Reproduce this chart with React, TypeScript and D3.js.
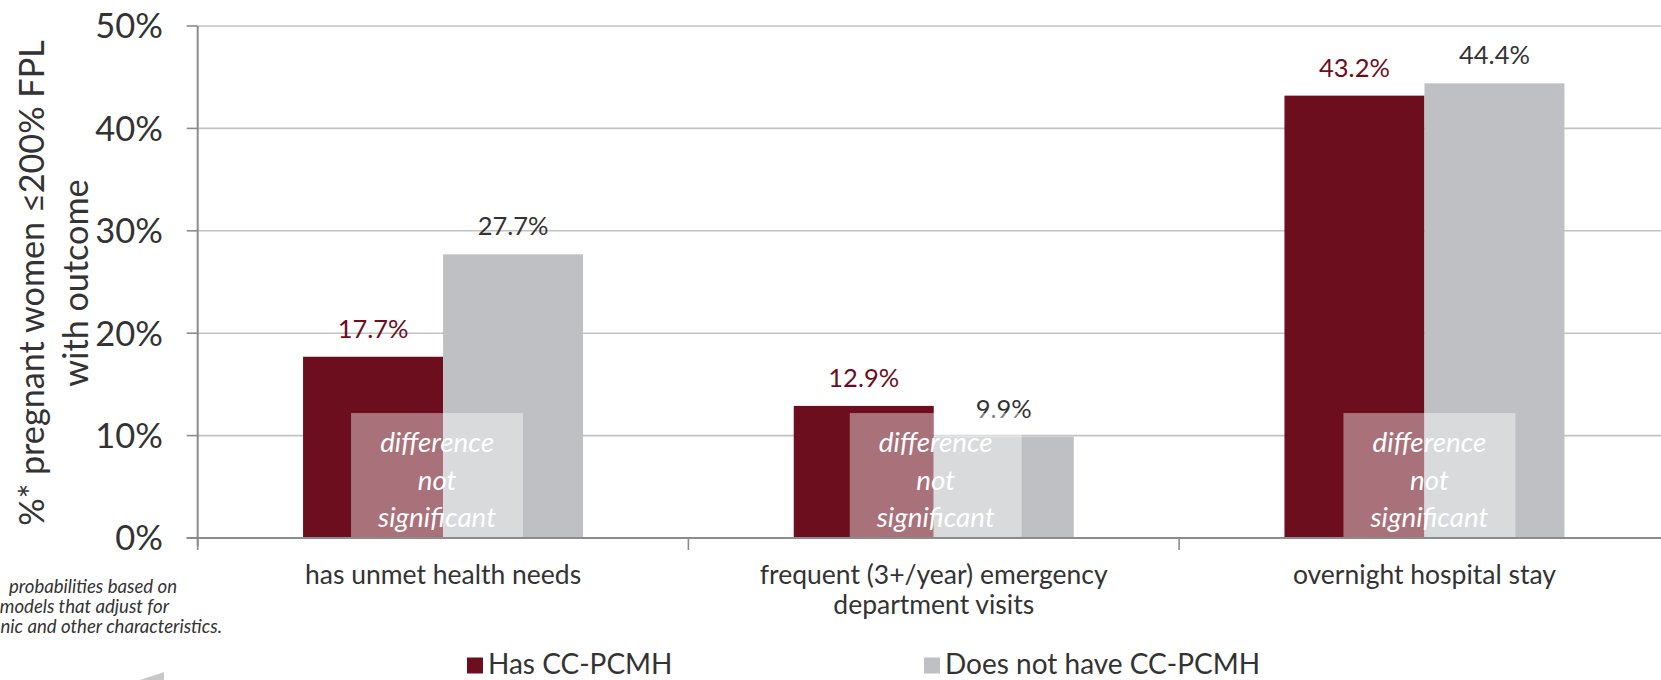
import React from "react";
import * as d3 from "d3";

const categories = [
  ["has unmet health needs"],
  ["frequent (3+/year) emergency", "department visits"],
  ["overnight hospital stay"],
];
const categoryKeys = ["unmet", "ed", "overnight"];
const seriesNames = ["Has CC-PCMH", "Does not have CC-PCMH"];
const hasValues = [17.7, 12.9, 43.2];
const notValues = [27.7, 9.9, 44.4];
const yTicks = [0, 10, 20, 30, 40, 50];
const nsBoxTop = 12.2;
const nsBoxShift = [-6, 2, 5];
const nsText = ["difference", "not", "significant"];
const footnote = [
  "probabilities based on",
  "models that adjust for",
  "nic and other characteristics.",
];
const yLabel = ["%* pregnant women \u2264200% FPL", "with outcome"];

const RED = "#6d0e1e";
const GREY = "#bfc0c4";
const TEXT = "#333333";
const FONT = "Lato, 'Open Sans', sans-serif";

export default function App() {
  const W = 1661;
  const H = 680;
  const axisX = 197.7;
  const step = 490.7;
  const y = d3.scaleLinear().domain([0, 50]).range([538, 26]);
  const x0 = d3
    .scaleBand<string>()
    .domain(categoryKeys)
    .range([axisX, axisX + step * categoryKeys.length])
    .padding(0);
  const x1 = d3
    .scaleBand<string>()
    .domain(seriesNames)
    .range([0, x0.bandwidth()])
    .paddingInner(0)
    .paddingOuter(0.7525);
  const colors = [RED, GREY];
  const labelColors = [RED, TEXT];
  const series = [hasValues, notValues];
  const boxHalf = 86;

  return (
    <svg
      width={W}
      height={H}
      style={{ position: "absolute", left: 0, top: 0, fontFamily: FONT }}
    >
      {/* gridlines */}
      {yTicks
        .filter((t) => t > 0)
        .map((t) => (
          <line
            key={"g" + t}
            x1={axisX}
            x2={W}
            y1={y(t)}
            y2={y(t)}
            stroke="#c2c2c2"
            strokeWidth={1.6}
          />
        ))}
      {/* bars */}
      {categoryKeys.map((c, ci) =>
        series.map((vals, si) => (
          <rect
            key={c + si}
            x={(x0(c) as number) + (x1(seriesNames[si]) as number)}
            y={y(vals[ci])}
            width={x1.bandwidth()}
            height={y(0) - y(vals[ci])}
            fill={colors[si]}
          />
        ))
      )}
      {/* value labels */}
      {categoryKeys.map((c, ci) =>
        series.map((vals, si) => (
          <text
            key={"v" + c + si}
            x={(x0(c) as number) + (x1(seriesNames[si]) as number) + x1.bandwidth() / 2}
            y={y(vals[ci]) - 19}
            textAnchor="middle"
            fontSize={25.5}
            fill={labelColors[si]}
          >
            {vals[ci].toFixed(1) + "%"}
          </text>
        ))
      )}
      {/* not significant boxes */}
      {categoryKeys.map((c, ci) => {
        const cx = (x0(c) as number) + x0.bandwidth() / 2 + nsBoxShift[ci];
        const top = y(nsBoxTop);
        return (
          <g key={"ns" + c}>
            <rect
              x={cx - boxHalf}
              y={top}
              width={boxHalf * 2}
              height={y(0) - top}
              fill="#ffffff"
              fillOpacity={0.41}
            />
            {nsText.map((t, i) => (
              <text
                key={t}
                x={cx}
                y={top + 39 + i * 37.5}
                textAnchor="middle"
                fontSize={27.8}
                fontStyle="italic"
                fill="#ffffff"
              >
                {t}
              </text>
            ))}
          </g>
        );
      })}
      {/* axes */}
      <line x1={axisX} x2={axisX} y1={y(50)} y2={546} stroke="#8c8c8c" strokeWidth={2} />
      <line x1={axisX - 11} x2={W} y1={y(0)} y2={y(0)} stroke="#8c8c8c" strokeWidth={2} />
      {yTicks.map((t) => (
        <g key={"yt" + t}>
          <line
            x1={axisX - 11}
            x2={axisX}
            y1={y(t)}
            y2={y(t)}
            stroke="#8c8c8c"
            strokeWidth={t === 0 ? 2 : 1.6}
          />
          <text
            x={163}
            y={y(t)}
            dy="0.36em"
            textAnchor="end"
            fontSize={34.5}
            fill={TEXT}
          >
            {t + "%"}
          </text>
        </g>
      ))}
      {categoryKeys.map((c) => (
        <line
          key={"xt" + c}
          x1={x0(c) as number}
          x2={x0(c) as number}
          y1={y(0)}
          y2={y(0) + 12}
          stroke="#8c8c8c"
          strokeWidth={1.6}
        />
      ))}
      {/* category labels */}
      {categoryKeys.map((c, ci) => (
        <text
          key={"cl" + c}
          x={(x0(c) as number) + x0.bandwidth() / 2}
          y={584}
          textAnchor="middle"
          fontSize={26.5}
          fill={TEXT}
        >
          {categories[ci].map((line, li) => (
            <tspan key={li} x={(x0(c) as number) + x0.bandwidth() / 2} dy={li === 0 ? 0 : 30}>
              {line}
            </tspan>
          ))}
        </text>
      ))}
      {/* y axis title */}
      {yLabel.map((line, i) => (
        <text
          key={"yl" + i}
          transform={`translate(${44 + i * 44},283) rotate(-90)`}
          textAnchor="middle"
          fontSize={34.2}
          fill={TEXT}
        >
          {line}
        </text>
      ))}
      {/* footnote (left part lies outside the frame in the original) */}
      {footnote.map((line, i) => (
        <text
          key={"fn" + i}
          x={[177, 169, 222][i]}
          y={593 + i * 20}
          textAnchor="end"
          fontSize={18.6}
          fontStyle="italic"
          fill={TEXT}
        >
          {line}
        </text>
      ))}
      <polygon points="140,680 164,672 164,680" fill="#c8c8c8" />
      {/* legend */}
      {seriesNames.map((s, i) => {
        const lx = [467, 924][i];
        return (
          <g key={"lg" + s}>
            <rect x={lx} y={657.5} width={16} height={16} fill={colors[i]} />
            <text x={lx + 21} y={674} fontSize={28} fill={TEXT}>
              {s}
            </text>
          </g>
        );
      })}
    </svg>
  );
}
